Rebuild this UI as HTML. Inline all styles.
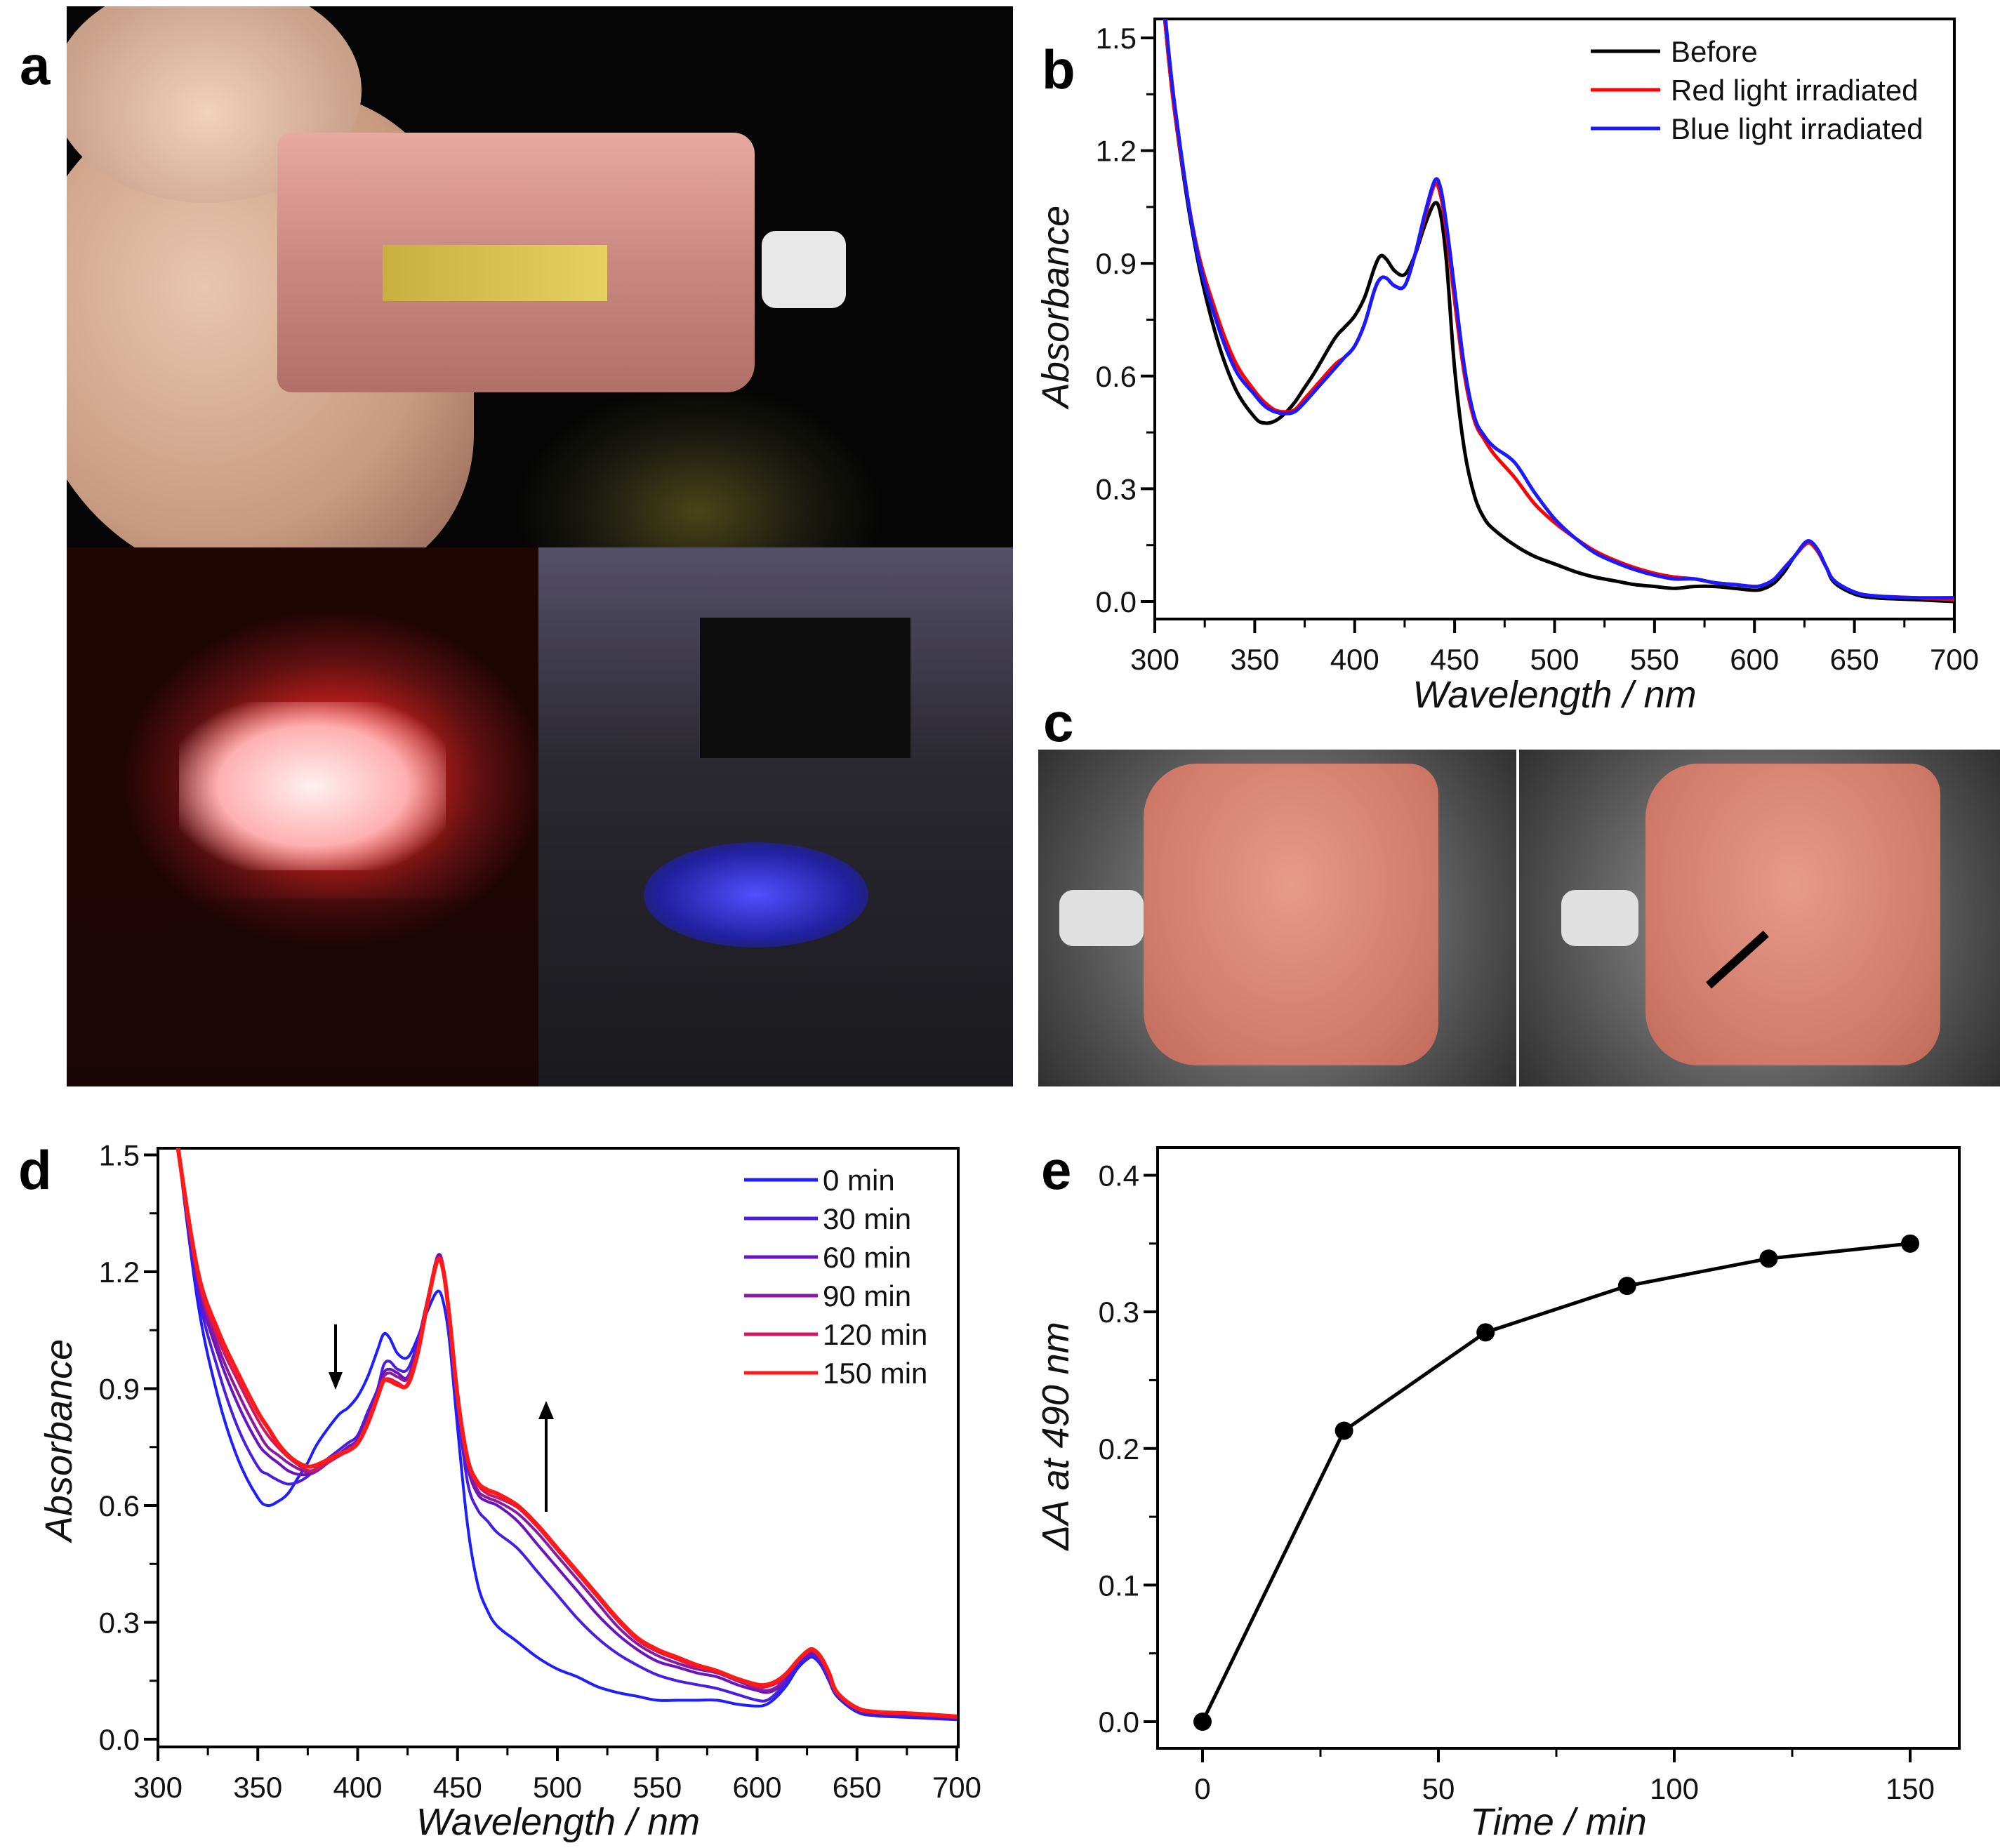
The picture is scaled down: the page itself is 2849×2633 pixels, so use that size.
<!DOCTYPE html>
<html><head><meta charset="utf-8">
<style>
html,body{margin:0;padding:0;background:#fff;}
#fig{position:relative;width:2849px;height:2633px;overflow:hidden;background:#fff;font-family:"Liberation Sans",Arial,sans-serif;}
.photo{position:absolute;overflow:hidden;}
.lbl{position:absolute;font-weight:bold;font-size:78px;line-height:1;color:#000;}
svg{position:absolute;left:0;top:0;}
</style></head>
<body>
<div id="fig">
  <div class="photo" style="left:95px;top:9px;width:1348px;height:771px;background:radial-gradient(ellipse 260px 180px at 900px 720px,#4a4418 0%,#1a1a10 60%,#050505 100%),#050505;">
    <div style="position:absolute;left:-60px;top:120px;width:640px;height:700px;border-radius:45% 40% 30% 50%;background:radial-gradient(ellipse at 40% 40%,#e8c6b0,#c89a80 60%,#8a6050);"></div>
    <div style="position:absolute;left:-20px;top:-40px;width:440px;height:320px;border-radius:50%;background:radial-gradient(ellipse at 50% 60%,#f0d2bd,#c9a08a 70%);"></div>
    <div style="position:absolute;left:300px;top:180px;width:680px;height:370px;border-radius:20px 30px 40px 20px;background:linear-gradient(180deg,#e8a9a0,#c98880 50%,#b07068);"></div>
    <div style="position:absolute;left:450px;top:340px;width:320px;height:80px;background:linear-gradient(90deg,#c8b040,#e6d060);"></div>
    <div style="position:absolute;left:990px;top:320px;width:120px;height:110px;border-radius:20px;background:#e8e8e8;"></div>
  </div>
  <div class="photo" style="left:95px;top:780px;width:672px;height:768px;background:radial-gradient(ellipse 300px 240px at 380px 330px,#ff8080 0%,#d02020 35%,#601010 70%,#200505 100%);">
    <div style="position:absolute;left:160px;top:220px;width:380px;height:240px;background:radial-gradient(ellipse at 50% 50%,#fff0f0,#ffb0b0 50%,rgba(255,80,80,0) 80%);"></div>
    <div style="position:absolute;left:0;top:500px;width:672px;height:268px;background:linear-gradient(180deg,rgba(30,5,5,0.3),#1a0505);"></div>
  </div>
  <div class="photo" style="left:767px;top:780px;width:676px;height:768px;background:linear-gradient(180deg,#55506a 0%,#2a2830 40%,#1a1a1e 100%);">
    <div style="position:absolute;left:150px;top:420px;width:320px;height:150px;border-radius:50%;background:radial-gradient(ellipse,#5050ff,#2020a0 60%,rgba(20,20,80,0) 100%);"></div>
    <div style="position:absolute;left:230px;top:100px;width:300px;height:200px;background:#0c0c0c;"></div>
  </div>
  <div class="photo" style="left:1479px;top:1068px;width:681px;height:480px;background:radial-gradient(circle at 50% 50%,#a0a0a0,#505050 70%,#303030);">
    <div style="position:absolute;left:150px;top:20px;width:420px;height:430px;border-radius:18% 10% 14% 18%;background:radial-gradient(ellipse at 50% 40%,#e89a88,#d07a6a 70%,#c06a5a);"></div>
    <div style="position:absolute;left:30px;top:200px;width:120px;height:80px;border-radius:20px;background:#e0e0e0;"></div>
  </div>
  <div class="photo" style="left:2164px;top:1068px;width:685px;height:480px;background:radial-gradient(circle at 50% 50%,#a0a0a0,#505050 70%,#303030);">
    <div style="position:absolute;left:180px;top:20px;width:420px;height:430px;border-radius:18% 10% 14% 18%;background:radial-gradient(ellipse at 50% 40%,#e89a88,#d07a6a 70%,#c06a5a);"></div>
    <div style="position:absolute;left:60px;top:200px;width:110px;height:80px;border-radius:20px;background:#e0e0e0;"></div>
    <div style="position:absolute;left:270px;width:110px;height:12px;background:#000;transform:rotate(-42deg);transform-origin:0 50%;top:330px;"></div>
  </div>
  <div class="lbl" style="left:28px;top:54px;">a</div>
  <div class="lbl" style="left:1484px;top:60px;">b</div>
  <div class="lbl" style="left:1486px;top:990px;">c</div>
  <div class="lbl" style="left:26px;top:1628px;">d</div>
  <div class="lbl" style="left:1483px;top:1628px;">e</div>
  <svg id="charts" width="2849" height="2633"></svg>
</div>
<script>
const wavelengths = [305,310,320,330,340,350,355,360,365,370,375,380,390,395,400,405,410,413,416,420,425,430,435,440,443,446,450,455,460,465,470,480,490,500,510,520,530,540,550,560,570,580,590,600,605,610,615,620,625,628,632,636,640,650,660,680,700];
const bBefore = [1.55,1.30,0.95,0.72,0.57,0.49,0.475,0.48,0.50,0.53,0.57,0.61,0.70,0.73,0.76,0.81,0.89,0.92,0.91,0.88,0.87,0.92,1.00,1.06,1.03,0.90,0.62,0.40,0.28,0.22,0.19,0.15,0.12,0.10,0.08,0.065,0.055,0.045,0.04,0.035,0.04,0.04,0.035,0.03,0.035,0.05,0.08,0.12,0.15,0.155,0.13,0.09,0.05,0.02,0.01,0.005,0.0];
const bRed = [1.55,1.30,0.97,0.78,0.64,0.56,0.53,0.51,0.505,0.51,0.54,0.57,0.63,0.65,0.68,0.74,0.83,0.86,0.86,0.84,0.84,0.92,1.02,1.11,1.08,0.98,0.80,0.60,0.48,0.43,0.39,0.33,0.26,0.21,0.17,0.135,0.11,0.09,0.075,0.065,0.06,0.05,0.045,0.04,0.045,0.06,0.09,0.12,0.15,0.155,0.13,0.09,0.055,0.025,0.015,0.01,0.005];
const bBlue = [1.57,1.32,0.96,0.76,0.62,0.55,0.52,0.505,0.50,0.505,0.53,0.56,0.62,0.65,0.68,0.74,0.83,0.86,0.86,0.84,0.84,0.92,1.03,1.12,1.10,1.00,0.83,0.62,0.49,0.44,0.41,0.37,0.29,0.22,0.17,0.13,0.105,0.085,0.07,0.06,0.06,0.05,0.045,0.04,0.045,0.06,0.09,0.12,0.155,0.16,0.135,0.09,0.055,0.025,0.015,0.01,0.01];
const bLegend = ["Before","Red light irradiated","Blue light irradiated"];
const d0 = [1.75,1.52,1.12,0.88,0.72,0.62,0.60,0.61,0.63,0.67,0.71,0.76,0.83,0.85,0.88,0.93,1.00,1.04,1.03,0.99,0.98,1.03,1.10,1.15,1.12,1.02,0.80,0.55,0.40,0.33,0.29,0.25,0.21,0.18,0.16,0.135,0.12,0.11,0.10,0.10,0.10,0.10,0.09,0.085,0.09,0.11,0.14,0.18,0.205,0.21,0.19,0.15,0.11,0.07,0.06,0.055,0.05];
const d30 = [1.75,1.52,1.15,0.95,0.80,0.70,0.68,0.665,0.655,0.66,0.675,0.70,0.74,0.76,0.78,0.84,0.90,0.96,0.97,0.95,0.95,1.02,1.13,1.24,1.21,1.08,0.86,0.66,0.59,0.56,0.53,0.49,0.43,0.37,0.31,0.26,0.22,0.19,0.165,0.15,0.14,0.13,0.115,0.10,0.10,0.12,0.15,0.19,0.21,0.215,0.195,0.155,0.115,0.075,0.065,0.06,0.055];
const d60 = [1.75,1.52,1.17,0.99,0.86,0.76,0.73,0.71,0.69,0.68,0.68,0.69,0.73,0.75,0.77,0.83,0.89,0.94,0.95,0.94,0.93,1.01,1.13,1.24,1.21,1.08,0.87,0.70,0.63,0.61,0.60,0.56,0.50,0.44,0.38,0.32,0.27,0.23,0.20,0.185,0.17,0.16,0.14,0.125,0.12,0.13,0.16,0.195,0.215,0.22,0.20,0.16,0.115,0.075,0.065,0.06,0.055];
const d90 = [1.75,1.52,1.18,1.01,0.89,0.79,0.75,0.73,0.71,0.695,0.685,0.69,0.73,0.745,0.765,0.82,0.885,0.93,0.94,0.93,0.925,1.00,1.13,1.23,1.20,1.08,0.88,0.71,0.64,0.62,0.61,0.58,0.53,0.47,0.41,0.35,0.29,0.245,0.215,0.195,0.18,0.17,0.15,0.13,0.125,0.135,0.165,0.20,0.22,0.225,0.205,0.165,0.12,0.08,0.07,0.065,0.055];
const d120 = [1.75,1.52,1.19,1.03,0.92,0.82,0.78,0.75,0.725,0.705,0.69,0.695,0.725,0.74,0.76,0.81,0.88,0.92,0.925,0.915,0.91,0.99,1.12,1.23,1.20,1.08,0.88,0.72,0.655,0.63,0.62,0.595,0.545,0.485,0.425,0.365,0.305,0.255,0.225,0.205,0.185,0.175,0.155,0.135,0.135,0.145,0.17,0.20,0.225,0.23,0.21,0.17,0.12,0.08,0.07,0.065,0.058];
const d150 = [1.75,1.52,1.20,1.05,0.94,0.84,0.80,0.76,0.73,0.71,0.70,0.705,0.73,0.74,0.76,0.81,0.88,0.92,0.92,0.91,0.91,0.99,1.12,1.23,1.20,1.08,0.88,0.72,0.66,0.64,0.63,0.60,0.55,0.49,0.43,0.37,0.31,0.26,0.23,0.21,0.19,0.175,0.155,0.14,0.14,0.15,0.17,0.20,0.225,0.23,0.21,0.17,0.12,0.08,0.07,0.065,0.058];
const dLegend = ["0 min","30 min","60 min","90 min","120 min","150 min"];
const eTimes = [0,30,60,90,120,150];
const eDeltaA = [0,0.213,0.285,0.319,0.339,0.350];
const specXTicks = [300,350,400,450,500,550,600,650,700];
const specYTicks = [0.0,0.3,0.6,0.9,1.2,1.5];
const eXTicks = [0,50,100,150];
const eYTicks = [0.0,0.1,0.2,0.3,0.4];

const NS="http://www.w3.org/2000/svg";
const svg=document.getElementById('charts');
function mk(tag,attrs,parent){const e=document.createElementNS(NS,tag);for(const k in attrs)e.setAttribute(k,attrs[k]);(parent||svg).appendChild(e);return e;}
function smoothPath(pts){let d='M'+pts[0][0].toFixed(1)+','+pts[0][1].toFixed(1);for(let i=0;i<pts.length-1;i++){const p0=pts[i-1]||pts[i],p1=pts[i],p2=pts[i+1],p3=pts[i+2]||p2;const c1x=p1[0]+(p2[0]-p0[0])/6,c1y=p1[1]+(p2[1]-p0[1])/6,c2x=p2[0]-(p3[0]-p1[0])/6,c2y=p2[1]-(p3[1]-p1[1])/6;d+=' C'+c1x.toFixed(1)+','+c1y.toFixed(1)+' '+c2x.toFixed(1)+','+c2y.toFixed(1)+' '+p2[0].toFixed(1)+','+p2[1].toFixed(1);}return d;}

function axes(cfg){
  const g=mk('g',{});
  
  
  const fr=mk('rect',{x:cfg.L,y:cfg.T,width:cfg.R-cfg.L,height:cfg.B-cfg.T,fill:'none',stroke:'#000','stroke-width':4},g);
  
  
  cfg.xt.forEach(v=>{const x=cfg.sx(v);mk('line',{x1:x,y1:cfg.B,x2:x,y2:cfg.B+20,stroke:'#000','stroke-width':4},g);
    const t=mk('text',{x:x,y:cfg.B+72,'font-size':42,'text-anchor':'middle',fill:'#111'},g);t.textContent=cfg.xf(v);
    
    });
  cfg.xm.forEach(v=>{const x=cfg.sx(v);mk('line',{x1:x,y1:cfg.B,x2:x,y2:cfg.B+12,stroke:'#000','stroke-width':3},g);});
  cfg.yt.forEach(v=>{const y=cfg.sy(v);mk('line',{x1:cfg.L,y1:y,x2:cfg.L-20,y2:y,stroke:'#000','stroke-width':4},g);
    const t=mk('text',{x:cfg.L-26,y:y+15,'font-size':42,'text-anchor':'end',fill:'#111'},g);t.textContent=v.toFixed(1);
    
    });
  cfg.ym.forEach(v=>{const y=cfg.sy(v);mk('line',{x1:cfg.L,y1:y,x2:cfg.L-12,y2:y,stroke:'#000','stroke-width':3},g);});
  const xl=mk('text',{x:(cfg.L+cfg.R)/2,y:cfg.xlY,'font-size':54,'font-style':'italic','text-anchor':'middle',fill:'#111'},g);xl.textContent=cfg.xlabel;
  
  
  const yl=mk('text',{x:0,y:0,'font-size':54,'font-style':'italic','text-anchor':'middle',fill:'#111',transform:'translate('+cfg.ylX+','+cfg.ylY+') rotate(-90)'},g);yl.textContent=cfg.ylabel;
  
  
  const cp=mk('clipPath',{id:cfg.name+'-clip'});mk('rect',{x:cfg.L,y:cfg.T,width:cfg.R-cfg.L,height:cfg.B-cfg.T},cp);
  return mk('g',{'clip-path':'url(#'+cfg.name+'-clip)'},g);
}
function minorList(a,b,step,skip){const r=[];for(let i=0;a+i*step<=b+1e-9;i++){if(i%skip)r.push(+(a+i*step).toFixed(4));}return r;}

(function(){
  const L=1645,R=2784,T=27,B=882;
  const sx=v=>L+(v-300)*(R-L)/400, sy=v=>857-v*(857-54)/1.5;
  const plot=axes({name:'chart-b',L,R,T,B,sx,sy,xt:specXTicks,xm:minorList(300,700,25,2),yt:specYTicks,ym:minorList(0,1.5,0.15,2),xf:v=>v,xlabel:'Wavelength / nm',ylabel:'Absorbance',xlY:1008,ylX:1522,ylY:437});
  const series=[[bBefore,'#000'],[bRed,'#ff0000'],[bBlue,'#1a1aff']];
  series.forEach((s,i)=>{const p=mk('path',{d:smoothPath(wavelengths.map((w,j)=>[sx(w),sy(s[0][j])])),fill:'none',stroke:s[1],'stroke-width':5},plot);
    
    
    const y=73+i*55;
    const ll=mk('line',{x1:2266,y1:y,x2:2365,y2:y,stroke:s[1],'stroke-width':5});
    
    
    const t=mk('text',{x:2380,y:y+15,'font-size':42,fill:'#111'});t.textContent=bLegend[i];
    
    });
})();

(function(){
  const L=225,R=1365,T=1636,B=2489;
  const sx=v=>L+(v-300)*(1363-225)/400, sy=v=>2478-v*(2478-1645.5)/1.5;
  const plot=axes({name:'chart-d',L,R,T,B,sx,sy,xt:specXTicks,xm:minorList(300,700,25,2),yt:specYTicks,ym:minorList(0,1.5,0.15,2),xf:v=>v,xlabel:'Wavelength / nm',ylabel:'Absorbance',xlY:2614,ylX:102,ylY:2052});
  const data=[d0,d30,d60,d90,d120,d150];
  const cols=['#1e1eff','#4a1ee0','#6a14c0','#8a1aa0','#d01860','#ff1a1a'];
  data.forEach((s,i)=>{const p=mk('path',{d:smoothPath(wavelengths.map((w,j)=>[sx(w),sy(s[j])])),fill:'none',stroke:cols[i],'stroke-width':i==5?6:4},plot);
    
    
    const y=1681+i*55;
    const ll=mk('line',{x1:1060,y1:y,x2:1165,y2:y,stroke:cols[i],'stroke-width':5});
    
    
    const t=mk('text',{x:1172,y:y+15,'font-size':42,fill:'#111'});t.textContent=dLegend[i];
    
    });
  const a1=mk('g',{});
  
  
  mk('line',{x1:478,y1:1887,x2:478,y2:1965,stroke:'#000','stroke-width':4},a1);
  mk('polygon',{points:'468,1955 488,1955 478,1980',fill:'#000'},a1);
  const a2=mk('g',{});
  
  
  mk('line',{x1:778,y1:2154,x2:778,y2:2012,stroke:'#000','stroke-width':4},a2);
  mk('polygon',{points:'767,2022 789,2022 778,1996',fill:'#000'},a2);
})();

(function(){
  const L=1649,R=2791,T=1635,B=2491;
  const sx=v=>1713+v*(2721-1713)/150, sy=v=>2453-v*(2453-1674.5)/0.4;
  const plot=axes({name:'chart-e',L,R,T,B,sx,sy,xt:eXTicks,xm:[25,75,125],yt:eYTicks,ym:[0.05,0.15,0.25,0.35],xf:v=>v,xlabel:'Time / min',ylabel:'\u0394A at 490 nm',xlY:2614,ylX:1522,ylY:2046});
  const pl=mk('polyline',{points:eTimes.map((t,i)=>sx(t)+','+sy(eDeltaA[i])).join(' '),fill:'none',stroke:'#000','stroke-width':5});
  
  
  eTimes.forEach((t,i)=>{const c=mk('circle',{cx:sx(t),cy:sy(eDeltaA[i]),r:13,fill:'#000'});
    
    });
})();
</script>
</body></html>
